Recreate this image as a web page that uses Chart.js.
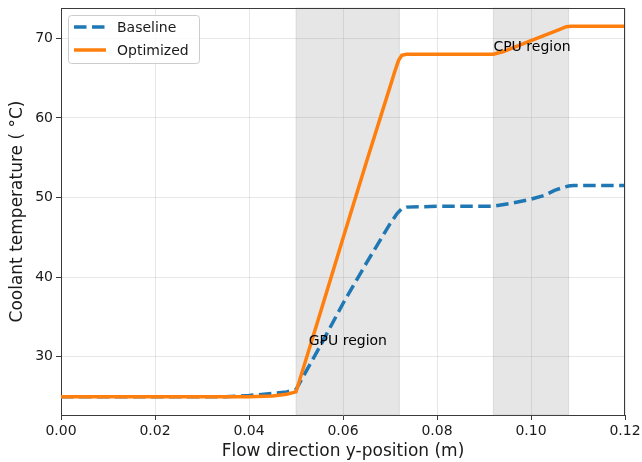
<!DOCTYPE html>
<html>
<head>
<meta charset="utf-8">
<script src="https://cdn.jsdelivr.net/npm/chart.js@4"></script>
<style>
html,body{margin:0;padding:0;background:#fff;}
canvas{display:block;}
</style>
</head>
<body>
<canvas id="c" width="642" height="462"></canvas>
<script>
// ---- data ----
const baselineX = [0, 0.02, 0.035, 0.04, 0.045, 0.048, 0.05, 0.055, 0.06, 0.065, 0.07, 0.0715, 0.0725, 0.0735, 0.08, 0.092, 0.096, 0.1, 0.103, 0.105, 0.107, 0.108, 0.109, 0.12];
const baselineY = [25.0, 25.0, 25.0, 25.15, 25.4, 25.6, 25.9, 31.2, 36.7, 41.8, 46.7, 48.0, 48.6, 48.8, 48.9, 48.9, 49.3, 49.8, 50.3, 50.9, 51.3, 51.45, 51.5, 51.5];
const optimizedX = [0, 0.02, 0.04, 0.045, 0.048, 0.05, 0.055, 0.06, 0.065, 0.07, 0.071, 0.0718, 0.0725, 0.0735, 0.08, 0.092, 0.094, 0.1, 0.106, 0.1075, 0.1085, 0.12];
const optimizedY = [25.0, 25.0, 25.0, 25.1, 25.3, 25.6, 35.2, 44.9, 54.5, 63.9, 65.8, 67.2, 67.85, 68.0, 68.0, 68.0, 68.3, 69.7, 71.1, 71.45, 71.5, 71.5];
const seriesNames = ["Baseline", "Optimized"];
const regionNames = ["GPU region", "CPU region"];
const regionStart = [0.05, 0.092];
const regionEnd = [0.072, 0.108];
const labelX = [0.0527, 0.092];
const labelY = [31.5, 68.4];
const xTicks = [0, 0.02, 0.04, 0.06, 0.08, 0.10, 0.12];
const yTicks = [30, 40, 50, 60, 70];
const xRange = [0, 0.12];
const yRange = [22.7, 73.8];

const BLUE = '#1f77b4', ORANGE = '#ff7f0e';
const FONT = "'DejaVu Sans', sans-serif";
const TXT = '#1a1a1a', SPINE = '#3a3a3a';

const toPts = (xs, ys) => xs.map((x, i) => ({x: x, y: ys[i]}));

const regionsPlugin = {
  id: 'regions',
  beforeDatasetsDraw(chart) {
    const {ctx, chartArea: a, scales: {x}} = chart;
    ctx.save();
    for (let i = 0; i < regionStart.length; i++) {
      const x0 = x.getPixelForValue(regionStart[i]);
      const x1 = x.getPixelForValue(regionEnd[i]);
      ctx.fillStyle = 'rgba(128,128,128,0.2)';
      ctx.fillRect(x0, a.top, x1 - x0, a.bottom - a.top);
      ctx.strokeStyle = 'rgba(128,128,128,0.2)';
      ctx.lineWidth = 1;
      ctx.strokeRect(x0, a.top, x1 - x0, a.bottom - a.top);
    }
    ctx.restore();
  },
  afterDatasetsDraw(chart) {
    const {ctx, chartArea: a, scales: {x, y}} = chart;
    ctx.save();
    // region labels
    ctx.font = "14px " + FONT;
    ctx.fillStyle = '#000';
    ctx.textAlign = 'left';
    ctx.textBaseline = 'alphabetic';
    for (let i = 0; i < regionNames.length; i++) {
      ctx.fillText(regionNames[i], x.getPixelForValue(labelX[i]), y.getPixelForValue(labelY[i]));
    }
    // top & right spines
    ctx.strokeStyle = SPINE;
    ctx.lineWidth = 1;
    ctx.beginPath();
    ctx.moveTo(a.left, a.top + 0.5); ctx.lineTo(a.right, a.top + 0.5);
    ctx.moveTo(a.right - 0.5, a.top); ctx.lineTo(a.right - 0.5, a.bottom);
    ctx.stroke();
    // legend
    const lx = a.left + 7, ly = a.top + 7, lw = 131, lh = 48;
    ctx.fillStyle = 'rgba(255,255,255,0.8)';
    ctx.strokeStyle = '#cccccc';
    ctx.beginPath();
    if (ctx.roundRect) ctx.roundRect(lx + 0.5, ly + 0.5, lw, lh, 3); else ctx.rect(lx + 0.5, ly + 0.5, lw, lh);
    ctx.fill(); ctx.stroke();
    const ds = chart.data.datasets;
    for (let i = 0; i < ds.length; i++) {
      const yy = ly + 12 + i * 23;
      ctx.strokeStyle = ds[i].borderColor;
      ctx.lineWidth = ds[i].borderWidth;
      ctx.setLineDash(ds[i].borderDash || []);
      ctx.beginPath();
      ctx.moveTo(lx + 6, yy); ctx.lineTo(lx + 38, yy);
      ctx.stroke();
      ctx.setLineDash([]);
      ctx.fillStyle = TXT;
      ctx.font = "14px " + FONT;
      ctx.textBaseline = 'middle';
      ctx.fillText(ds[i].label, lx + 49, yy + 1);
    }
    ctx.restore();
  }
};

new Chart(document.getElementById('c'), {
  type: 'scatter',
  data: {
    datasets: [
      {label: seriesNames[0], data: toPts(baselineX, baselineY), showLine: true, borderColor: BLUE, backgroundColor: BLUE,
       borderWidth: 3.5, borderDash: [12.5, 5.5], pointRadius: 0, tension: 0, order: 2},
      {label: seriesNames[1], data: toPts(optimizedX, optimizedY), showLine: true, borderColor: ORANGE, backgroundColor: ORANGE,
       borderWidth: 3.5, pointRadius: 0, tension: 0, order: 1}
    ]
  },
  options: {
    responsive: false,
    animation: false,
    devicePixelRatio: 1,
    layout: {padding: {left: 0, right: 17, top: 8, bottom: 0}},
    plugins: {legend: {display: false}, tooltip: {enabled: false}},
    scales: {
      x: {
        type: 'linear', min: xRange[0], max: xRange[1],
        afterBuildTicks: s => { s.ticks = xTicks.map(v => ({value: v})); },
        afterFit: s => { s.height = 47; s.paddingLeft = 0; s.paddingRight = 0; },
        grid: {color: 'rgba(176,176,176,0.3)', lineWidth: 1, tickLength: 5, tickColor: SPINE, tickWidth: 1},
        border: {color: SPINE, width: 1},
        ticks: {color: TXT, font: {family: FONT, size: 14}, padding: 3, maxRotation: 0, callback: v => v.toFixed(2)},
        title: {display: true, text: 'Flow direction y-position (m)', color: TXT, font: {family: FONT, size: 17}, padding: {top: 0, bottom: 0}}
      },
      y: {
        type: 'linear', min: yRange[0], max: yRange[1],
        afterBuildTicks: s => { s.ticks = yTicks.map(v => ({value: v})); },
        afterFit: s => { s.width = 61; s.paddingTop = 0; s.paddingBottom = 0; },
        grid: {color: 'rgba(176,176,176,0.3)', lineWidth: 1, tickLength: 5, tickColor: SPINE, tickWidth: 1},
        border: {color: SPINE, width: 1},
        ticks: {color: TXT, font: {family: FONT, size: 14}, padding: 3, callback: v => String(v)},
        title: {display: true, text: 'Coolant temperature ( °C)', color: TXT, font: {family: FONT, size: 17}, padding: {top: 7, bottom: 0}}
      }
    }
  },
  plugins: [regionsPlugin]
});
</script>
</body>
</html>
